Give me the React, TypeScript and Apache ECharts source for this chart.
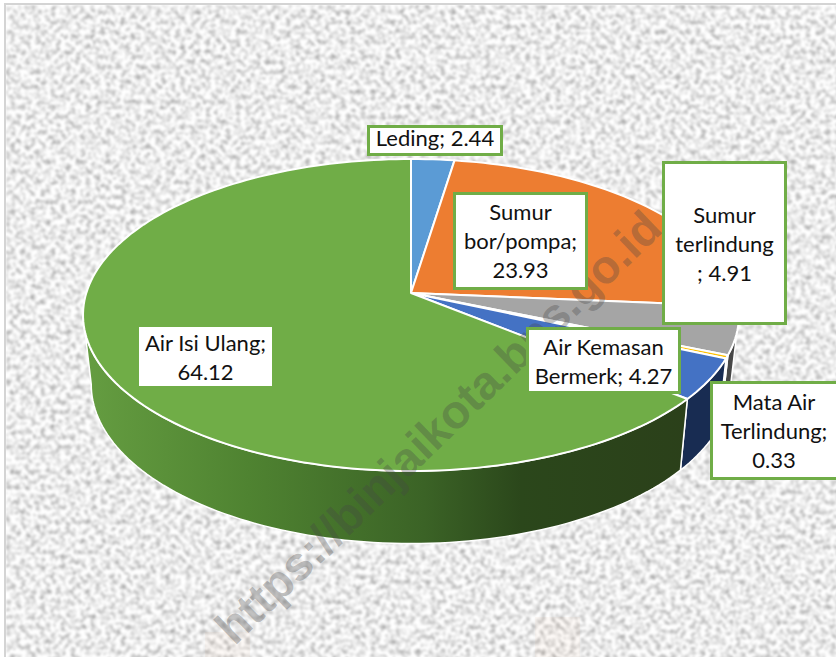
import React, { useEffect, useRef } from "react";
import * as echarts from "echarts";

const categories = ["Leding", "Sumur bor/pompa", "Sumur terlindung", "Mata Air Terlindung", "Air Kemasan Bermerk", "Air Isi Ulang"];
const values = [2.44, 23.93, 4.91, 0.33, 4.27, 64.12];
const topColors = ["#5b9bd5", "#ed7d31", "#a5a5a5", "#ffc000", "#4472c4", "#70ad47"];
const labelTexts = ["Leding; 2.44", "Sumur\nbor/pompa;\n23.93", "Sumur\nterlindung\n; 4.91", "Mata Air\nTerlindung;\n0.33", "Air Kemasan\nBermerk; 4.27", "Air Isi Ulang;\n64.12"];
const watermark = "https://binjaikota.bps.go.id";

// Label-box layout, same order as categories: left, top, right, bottom, text y offset
const labelBoxes = [
  [367, 125, 503, 156, -3],
  [453, 192, 588, 290, -1],
  [662, 161, 787, 325, 0],
  [710, 381, 840, 480, 0],
  [526, 327, 681, 394, 0],
  [136, 324, 275, 389, 0],
];

// Perspective projection of the pie's disc
const CX = 411, APEX_Y = 293, A = 324.7, B = 152.9, K = 0.141;
const BOTTOM_SCALE = 0.975, BOTTOM_B = 156, BOTTOM_Y = 362;
const SIDE_START = 98, SIDE_END = 262;
const total = values.reduce((a, b) => a + b, 0);

const toDeg = (i: number) => (values.slice(0, i).reduce((a, b) => a + b, 0) / total) * 360;

function project(deg: number, bottom: boolean): number[] {
  const t = (deg * Math.PI) / 180;
  const u = Math.sin(t), v = -Math.cos(t), w = 1 - K * v;
  return bottom
    ? [CX + (A * BOTTOM_SCALE * u) / w, BOTTOM_Y + (BOTTOM_B * v) / w]
    : [CX + (A * u) / w, APEX_Y + (B * v) / w];
}

function arc(from: number, to: number, bottom: boolean): number[][] {
  const n = Math.max(2, Math.ceil(Math.abs(to - from) / 1.5));
  const pts: number[][] = [];
  for (let i = 0; i <= n; i++) pts.push(project(from + ((to - from) * i) / n, bottom));
  return pts;
}

const greenSide = {
  type: "linear", x: 85, y: 0, x2: 690, y2: 0, global: true,
  colorStops: [
    { offset: 0, color: "#659d41" },
    { offset: 0.27, color: "#4f8331" },
    { offset: 0.56, color: "#3b6326" },
    { offset: 0.72, color: "#2b471b" },
    { offset: 1, color: "#2b401a" },
  ],
};
const sideFills: any[] = ["#2e5a84", "#8a4418", "#474747", "#7a5c00", "#182c52", greenSide];

const renderTop = (params: any) => {
  const i = params.dataIndex;
  const points = [[CX, APEX_Y], ...arc(toDeg(i), toDeg(i + 1), false)];
  return {
    type: "polygon",
    shape: { points },
    style: { fill: topColors[i], stroke: "#ffffff", lineWidth: 2, lineJoin: "round" },
  };
};

const renderSide = (params: any) => {
  const i = params.dataIndex;
  const from = Math.max(toDeg(i), SIDE_START);
  const to = Math.min(toDeg(i + 1), SIDE_END);
  if (to <= from) return { type: "group", children: [] };
  const points = [...arc(from, to, false), ...arc(from, to, true).reverse()];
  return {
    type: "polygon",
    shape: { points },
    style: { fill: sideFills[i], stroke: "#ffffff", lineWidth: 1.5, lineJoin: "round" },
  };
};

const noise =
  "url(\"data:image/svg+xml," +
  encodeURIComponent(
    `<svg xmlns='http://www.w3.org/2000/svg' width='836' height='657'><filter id='n' x='0' y='0' width='100%' height='100%' color-interpolation-filters='sRGB'><feTurbulence type='fractalNoise' baseFrequency='0.2' numOctaves='2' seed='7'/><feColorMatrix values='0.75 0 0 0 0.55 0.75 0 0 0 0.55 0.75 0 0 0 0.55 0 0 0 0 1'/><feGaussianBlur stdDeviation='0.8'/></filter><rect width='836' height='657' filter='url(#n)'/></svg>`
  ) +
  "\")";

export default function App() {
  const ref = useRef<HTMLDivElement>(null);
  useEffect(() => {
    const chart = echarts.init(ref.current!, null, { renderer: "svg" });
    const data = values.map((value, i) => ({ name: categories[i], value }));
    const labelEls: any[] = [];
    labelTexts.forEach((text, i) => {
      const [l, t, r, b, dy] = labelBoxes[i];
      labelEls.push({
        type: "rect",
        z: 110,
        shape: { x: l + 1.5, y: t + 1.5, width: r - l - 3, height: b - t - 3 },
        style: { fill: "#ffffff", stroke: "#70ad47", lineWidth: 3 },
      });
      labelEls.push({
        type: "text",
        z: 111,
        x: (l + Math.min(r, 836)) / 2 + (i === 3 ? 1 : 0),
        y: (t + b) / 2 + dy,
        style: {
          text,
          fill: "#111111",
          font: "22px Lato",
          lineHeight: 29,
          align: "center",
          verticalAlign: "middle",
        },
      });
    });
    const logoMarks = [
      [205, 632, 45, 25],
      [535, 617, 45, 40],
    ].map(([x, y, width, height]) => ({
      type: "rect",
      z: 50,
      silent: true,
      shape: { x, y, width, height },
      style: { fill: "rgba(237,125,49,0.04)" },
    }));
    chart.setOption({
      animation: false,
      backgroundColor: "transparent",
      series: [
        { type: "custom", coordinateSystem: "none", z: 1, silent: true, renderItem: renderSide, data },
        { type: "custom", coordinateSystem: "none", z: 2, silent: true, renderItem: renderTop, data },
      ],
      graphic: {
        elements: [
          ...logoMarks,
          {
            type: "text",
            z: 100,
            x: 438,
            y: 427,
            rotation: (44 * Math.PI) / 180,
            silent: true,
            style: {
              text: watermark,
              fill: "rgba(70,70,70,0.33)",
              font: "bold 47px 'Liberation Sans'",
              align: "center",
              verticalAlign: "middle",
            },
          },
          ...labelEls,
        ],
      },
    });
    return () => chart.dispose();
  }, []);
  return (
    <div style={{ position: "absolute", left: 0, top: 0, width: 836, height: 657, background: "#fff", overflow: "hidden" }}>
      <div
        style={{
          position: "absolute", left: 4, top: 3, width: 832, height: 654,
          boxSizing: "border-box", borderLeft: "2px solid #d4d4d4", borderTop: "2px solid #d4d4d4",
          backgroundImage: noise,
        }}
      />
      <div ref={ref} style={{ position: "absolute", left: 0, top: 0, width: 836, height: 657 }} />
    </div>
  );
}
